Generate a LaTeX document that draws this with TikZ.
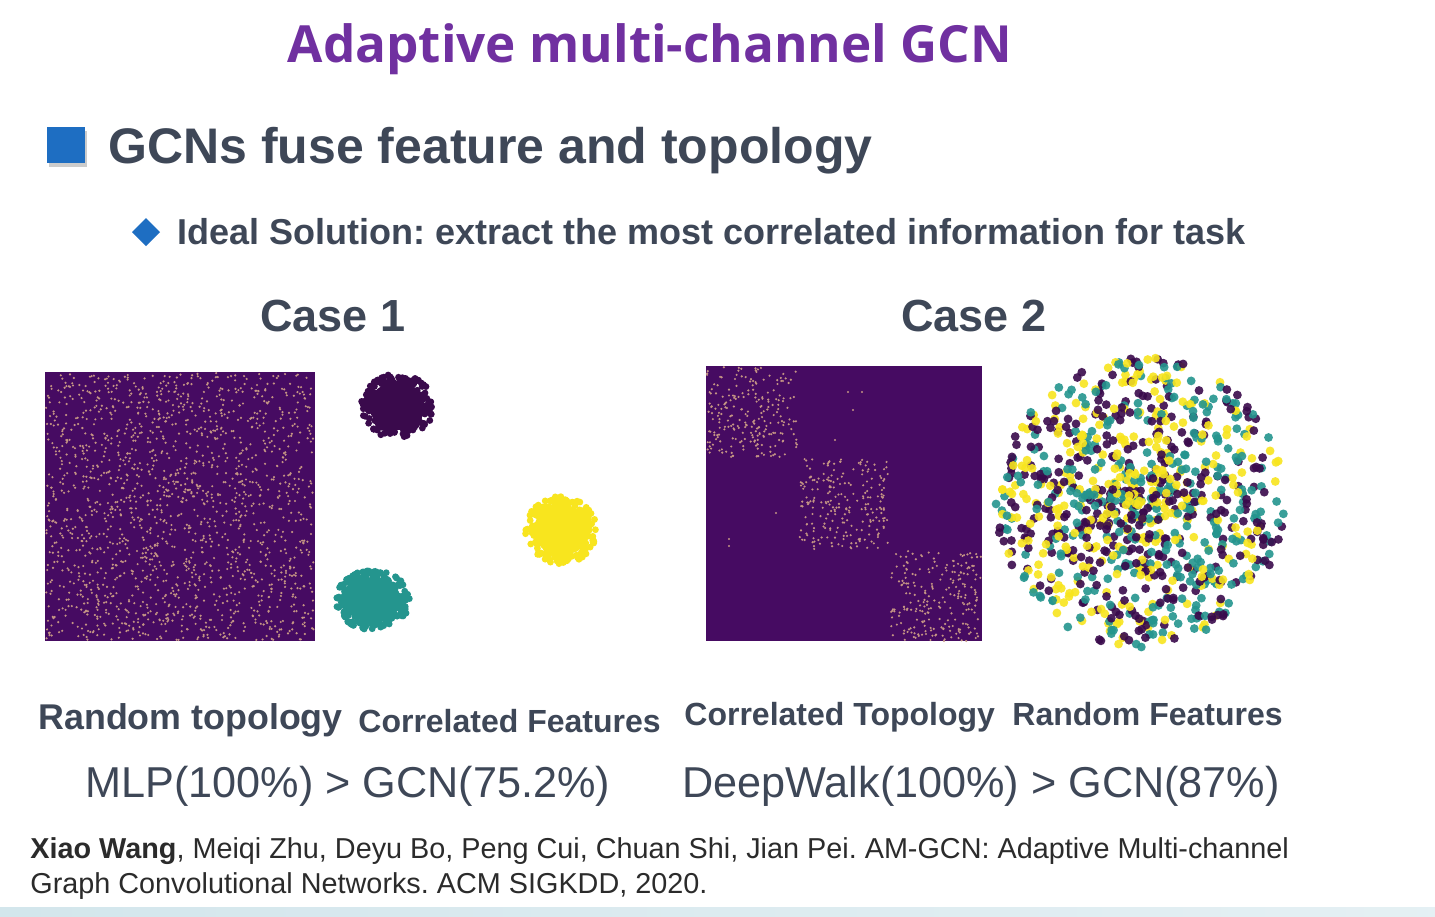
\documentclass[tikz,border=0pt]{standalone}
\usepackage{fontspec}
\setmainfont{Liberation Sans}
\newfontfamily\titlefont{Open Sans}
\frenchspacing
\definecolor{titlepurple}{HTML}{7030A0}
\definecolor{bulletblue}{HTML}{1E6EC2}
\definecolor{slate}{HTML}{3E4757}
\definecolor{citegray}{HTML}{2B2B2B}
\definecolor{vpurple}{HTML}{460B62}
\definecolor{vdark}{HTML}{3A0A4C}
\definecolor{vteal}{HTML}{24958E}
\definecolor{vyellow}{HTML}{F8E51E}
\definecolor{matdot}{HTML}{C49484}
\definecolor{bandblue}{HTML}{D3E6EC}

\begin{document}
\begin{tikzpicture}[x=0.5pt,y=-0.5pt,
  txt/.style={inner sep=0pt,text=slate},
  hdbold/.style={txt,font=\bfseries\fontsize{#1}{#1}\selectfont},
  hdreg/.style={txt,font=\fontsize{#1}{#1}\selectfont},
  punto/.style={fill=matdot}]
  \pgfmathsetseed{7}
  \fill[white] (0,0) rectangle (1435,916);
  \useasboundingbox (0,0) rectangle (1435,916);
  % titulo
  \node[inner sep=0pt,text=titlepurple,anchor=base,font=\titlefont\bfseries\fontsize{25.6}{25.6}\selectfont] (titulo) at (650,62) {Adaptive multi-channel GCN};
  % vineta cuadrada y encabezado
  \fill[black!20] (49,131) rectangle (87,167);
  \fill[bulletblue] (47,127) rectangle (85,163);
  \node[hdbold=25,anchor=base west] (encabezado) at (108,163) {GCNs fuse feature and topology};
  % vineta rombo
  \fill[bulletblue] (146,218)--(160,232)--(146,246)--(132,232)--cycle;
  \node[hdbold=18,anchor=base west] (ideal) at (177,244) {Ideal Solution: extract the most correlated information for task};
  \node[hdbold=22.5,anchor=base] (caso1) at (333,331) {Case 1};
  \node[hdbold=22.5,anchor=base] (caso2) at (974,331) {Case 2};
  % matriz de adyacencia aleatoria
  \fill[vpurple] (45,372) rectangle (315,641);
  \foreach \i in {1,...,1700}{
    \pgfmathsetmacro\px{46+268*rnd}
    \pgfmathsetmacro\py{373+267*rnd}
    \fill[punto] (\px,\py) circle[radius=1.2];
  }
  % grupos de rasgos correlacionados
  \foreach \cx/\cy/\rx/\ry/\col in {397/406/37/32/vdark,373/600/37/30/vteal,561/530/36/34/vyellow}{
    \fill[\col] (\cx,\cy) ellipse[x radius=0.75*\rx, y radius=0.75*\ry];
    \foreach \i in {1,...,300}{
      \pgfmathsetmacro\a{360*rnd}
      \pgfmathsetmacro\r{sqrt(rnd)}
      \pgfmathsetmacro\px{\cx+\rx*\r*cos(\a)}
      \pgfmathsetmacro\py{\cy+\ry*\r*sin(\a)}
      \fill[\col] (\px,\py) circle[radius=3.4];
    }
  }
  % matriz por bloques
  \fill[vpurple] (706,366) rectangle (982,641);
  \foreach \b in {0,1,2}{
    \foreach \i in {1,...,230}{
      \pgfmathsetmacro\px{707+92*\b+90*rnd}
      \pgfmathsetmacro\py{367+92*\b+90*rnd}
      \fill[punto] (\px,\py) circle[radius=1.2];
    }
  }
  \foreach \px/\py in {848/392,862/392,853/410,835/440,776/513,729/539,729/546,771/456}
    \fill[punto] (\px,\py) circle[radius=1.2];
  % nube de rasgos aleatorios
  \foreach \i in {1,...,1000}{
    \pgfmathsetmacro\a{360*rnd}
    \pgfmathsetmacro\r{145*rnd^0.7}
    \pgfmathtruncatemacro\c{3*rnd}
    \pgfmathsetmacro\px{1140+\r*cos(\a)}
    \pgfmathsetmacro\py{502+\r*sin(\a)}
    \ifcase\c \def\col{vdark}\or\def\col{vteal}\else\def\col{vyellow}\fi
    \fill[\col,opacity=0.9] (\px,\py) circle[radius=4.4];
  }
  % etiquetas
  \node[hdbold=17.9,anchor=base west] (lbl-rt) at (38,729) {Random topology};
  \node[hdbold=16,anchor=base west] (lbl-cf) at (358,732) {Correlated Features};
  \node[hdbold=16,anchor=base west] (lbl-ct) at (684,725) {Correlated Topology};
  \node[hdbold=16,anchor=base west] (lbl-rf) at (1012,725) {Random Features};
  \node[hdreg=21.6,anchor=base west] (res1) at (85,797) {MLP(100\%) > GCN(75.2\%)};
  \node[hdreg=21.6,anchor=base west] (res2) at (682,797) {DeepWalk(100\%) > GCN(87\%)};
  % referencia
  \node[inner sep=0pt,text=citegray,anchor=base west,font=\fontsize{14.4}{14.4}\selectfont] (cita1) at (30,858) {\textbf{Xiao Wang}, Meiqi Zhu, Deyu Bo, Peng Cui, Chuan Shi, Jian Pei. AM-GCN: Adaptive Multi-channel};
  \node[inner sep=0pt,text=citegray,anchor=base west,font=\fontsize{14.4}{14.4}\selectfont] (cita2) at (30,893) {Graph Convolutional Networks. ACM SIGKDD, 2020.};
  % franja inferior
  \shade[left color=bandblue,right color=bandblue!60] (0,907) rectangle (1435,916);
\end{tikzpicture}
\end{document}
